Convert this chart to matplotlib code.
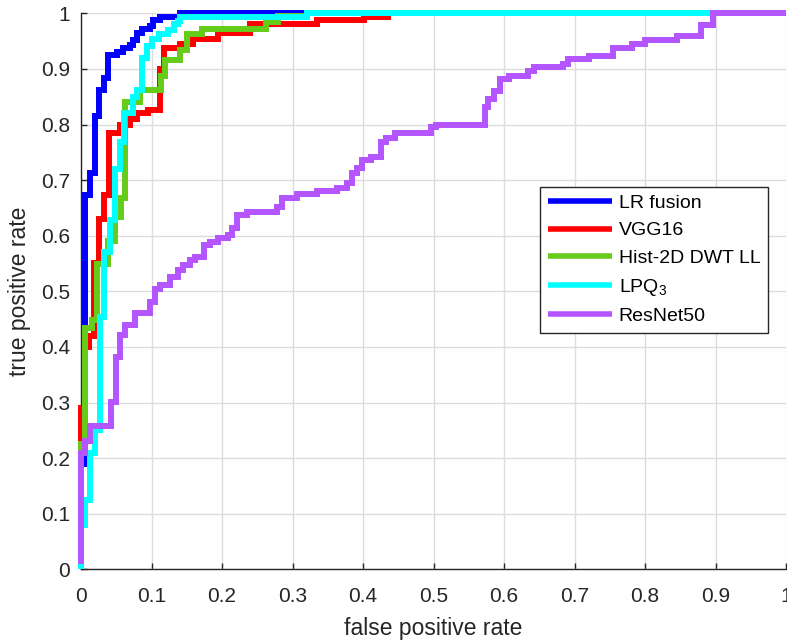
import matplotlib
matplotlib.use("Agg")
import matplotlib.pyplot as plt
import numpy as np

# ---- data: staircase ROC vertices (x where the step happens, tpr reached) ----
lr_fpr = [0, 0, 0.006, 0.013, 0.020, 0.026, 0.032, 0.038, 0.051, 0.060, 0.069, 0.074,
          0.079, 0.086, 0.098, 0.102, 0.112, 0.140, 1.0]
lr_tpr = [0, 0.19, 0.673, 0.712, 0.815, 0.862, 0.884, 0.925, 0.931, 0.937, 0.943, 0.952,
          0.965, 0.971, 0.978, 0.988, 0.994, 1.0, 1.0]

vgg_fpr = [0, 0, 0.006, 0.011, 0.018, 0.026, 0.033, 0.040, 0.055, 0.069, 0.079, 0.095,
           0.112, 0.118, 0.140, 0.159, 0.194, 0.240, 0.335, 0.401, 0.435, 1.0]
vgg_tpr = [0, 0.29, 0.40, 0.42, 0.551, 0.63, 0.673, 0.784, 0.80, 0.81, 0.82, 0.826,
           0.90, 0.937, 0.945, 0.953, 0.965, 0.980, 0.988, 0.993, 1.0, 1.0]

hist_fpr = [0, 0, 0.005, 0.015, 0.023, 0.038, 0.048, 0.057, 0.062, 0.084, 0.114, 0.119,
            0.140, 0.150, 0.172, 0.263, 0.279, 0.320, 1.0]
hist_tpr = [0, 0.225, 0.434, 0.448, 0.55, 0.59, 0.634, 0.668, 0.841, 0.862, 0.888, 0.916,
            0.934, 0.962, 0.972, 0.985, 0.995, 1.0, 1.0]

lpq_fpr = [0, 0, 0.006, 0.013, 0.020, 0.027, 0.033, 0.041, 0.048, 0.055, 0.061, 0.074,
           0.080, 0.086, 0.093, 0.100, 0.111, 0.124, 0.132, 0.138, 0.141, 0.320, 1.0]
lpq_tpr = [0, 0.08, 0.125, 0.209, 0.25, 0.454, 0.571, 0.628, 0.72, 0.768, 0.821, 0.850,
           0.862, 0.92, 0.941, 0.953, 0.963, 0.970, 0.980, 0.986, 0.994, 1.0, 1.0]

res_fpr = [0, 0, 0.006, 0.013, 0.043, 0.050, 0.056, 0.062, 0.076, 0.098, 0.105, 0.112,
           0.126, 0.138, 0.145, 0.155, 0.162, 0.174, 0.183, 0.195, 0.208, 0.214, 0.221,
           0.235, 0.278, 0.285, 0.306, 0.335, 0.363, 0.377, 0.384, 0.391, 0.399, 0.412,
           0.426, 0.433, 0.446, 0.496, 0.503, 0.573, 0.578, 0.586, 0.594, 0.607, 0.634,
           0.642, 0.684, 0.691, 0.721, 0.754, 0.782, 0.800, 0.845, 0.880, 0.896, 1.0]
res_tpr = [0.01, 0.21, 0.23, 0.258, 0.301, 0.382, 0.421, 0.439, 0.461, 0.481, 0.505, 0.511,
           0.526, 0.538, 0.547, 0.556, 0.562, 0.583, 0.589, 0.596, 0.601, 0.614, 0.637,
           0.643, 0.651, 0.667, 0.675, 0.681, 0.686, 0.695, 0.713, 0.722, 0.736, 0.742,
           0.769, 0.776, 0.784, 0.796, 0.799, 0.832, 0.846, 0.861, 0.881, 0.888, 0.896,
           0.903, 0.909, 0.918, 0.924, 0.937, 0.945, 0.952, 0.960, 0.979, 1.0, 1.0]

labels = ["LR fusion", "VGG16", "Hist-2D DWT LL", "LPQ$_3$", "ResNet50"]
colors = ["#0000ff", "#ff0000", "#66cc1a", "#00ffff", "#b455ff"]
ticks = [0, 0.1, 0.2, 0.3, 0.4, 0.5, 0.6, 0.7, 0.8, 0.9, 1]
tick_labels = ["0", "0.1", "0.2", "0.3", "0.4", "0.5", "0.6", "0.7", "0.8", "0.9", "1"]

plt.rcParams["font.family"] = ["Liberation Sans", "DejaVu Sans"]
plt.rcParams["mathtext.default"] = "regular"

fig = plt.figure(figsize=(7.87, 6.42), dpi=100)
ax = fig.add_axes([81 / 787, 72.7 / 642, 705 / 787, 556 / 642])

series = [(lr_fpr, lr_tpr), (vgg_fpr, vgg_tpr), (hist_fpr, hist_tpr),
          (lpq_fpr, lpq_tpr), (res_fpr, res_tpr)]
for (xs, ys), lab, col in zip(series, labels, colors):
    ax.plot(xs, ys, drawstyle="steps-post", color=col, lw=4.3, label=lab,
            clip_on=False, zorder=3, solid_capstyle="butt", solid_joinstyle="miter")

ax.set_xlim(0, 1)
ax.set_ylim(0, 1)
ax.set_xticks(ticks)
ax.set_xticklabels(tick_labels)
ax.set_yticks(ticks)
ax.set_yticklabels(tick_labels)
ax.grid(True, color="#dcdcdc", lw=1.0)
ax.set_axisbelow(True)
for s in ["top", "right"]:
    ax.spines[s].set_visible(False)
for s in ["left", "bottom"]:
    ax.spines[s].set_color("#262626")
    ax.spines[s].set_linewidth(1.0)
ax.tick_params(direction="in", length=4, width=1.0, colors="#262626",
               labelsize=15, labelcolor="#262626")
ax.tick_params(axis="x", pad=13)
ax.tick_params(axis="y", pad=8)

ax.set_xlabel("false positive rate", fontsize=16.5, color="#262626", labelpad=8)
ax.set_ylabel("true positive rate", fontsize=16.5, color="#262626", labelpad=7)

leg = ax.legend(loc="upper left", bbox_to_anchor=(0.651, 0.688), borderaxespad=0,
                fontsize=14, handlelength=3.3, handletextpad=0.35, borderpad=0.4,
                labelspacing=0.5, fancybox=False, framealpha=1, edgecolor="#262626")
leg.get_frame().set_linewidth(1.0)
for line in leg.get_lines():
    line.set_linewidth(4.0)

fig.savefig("out.png", dpi=100)
